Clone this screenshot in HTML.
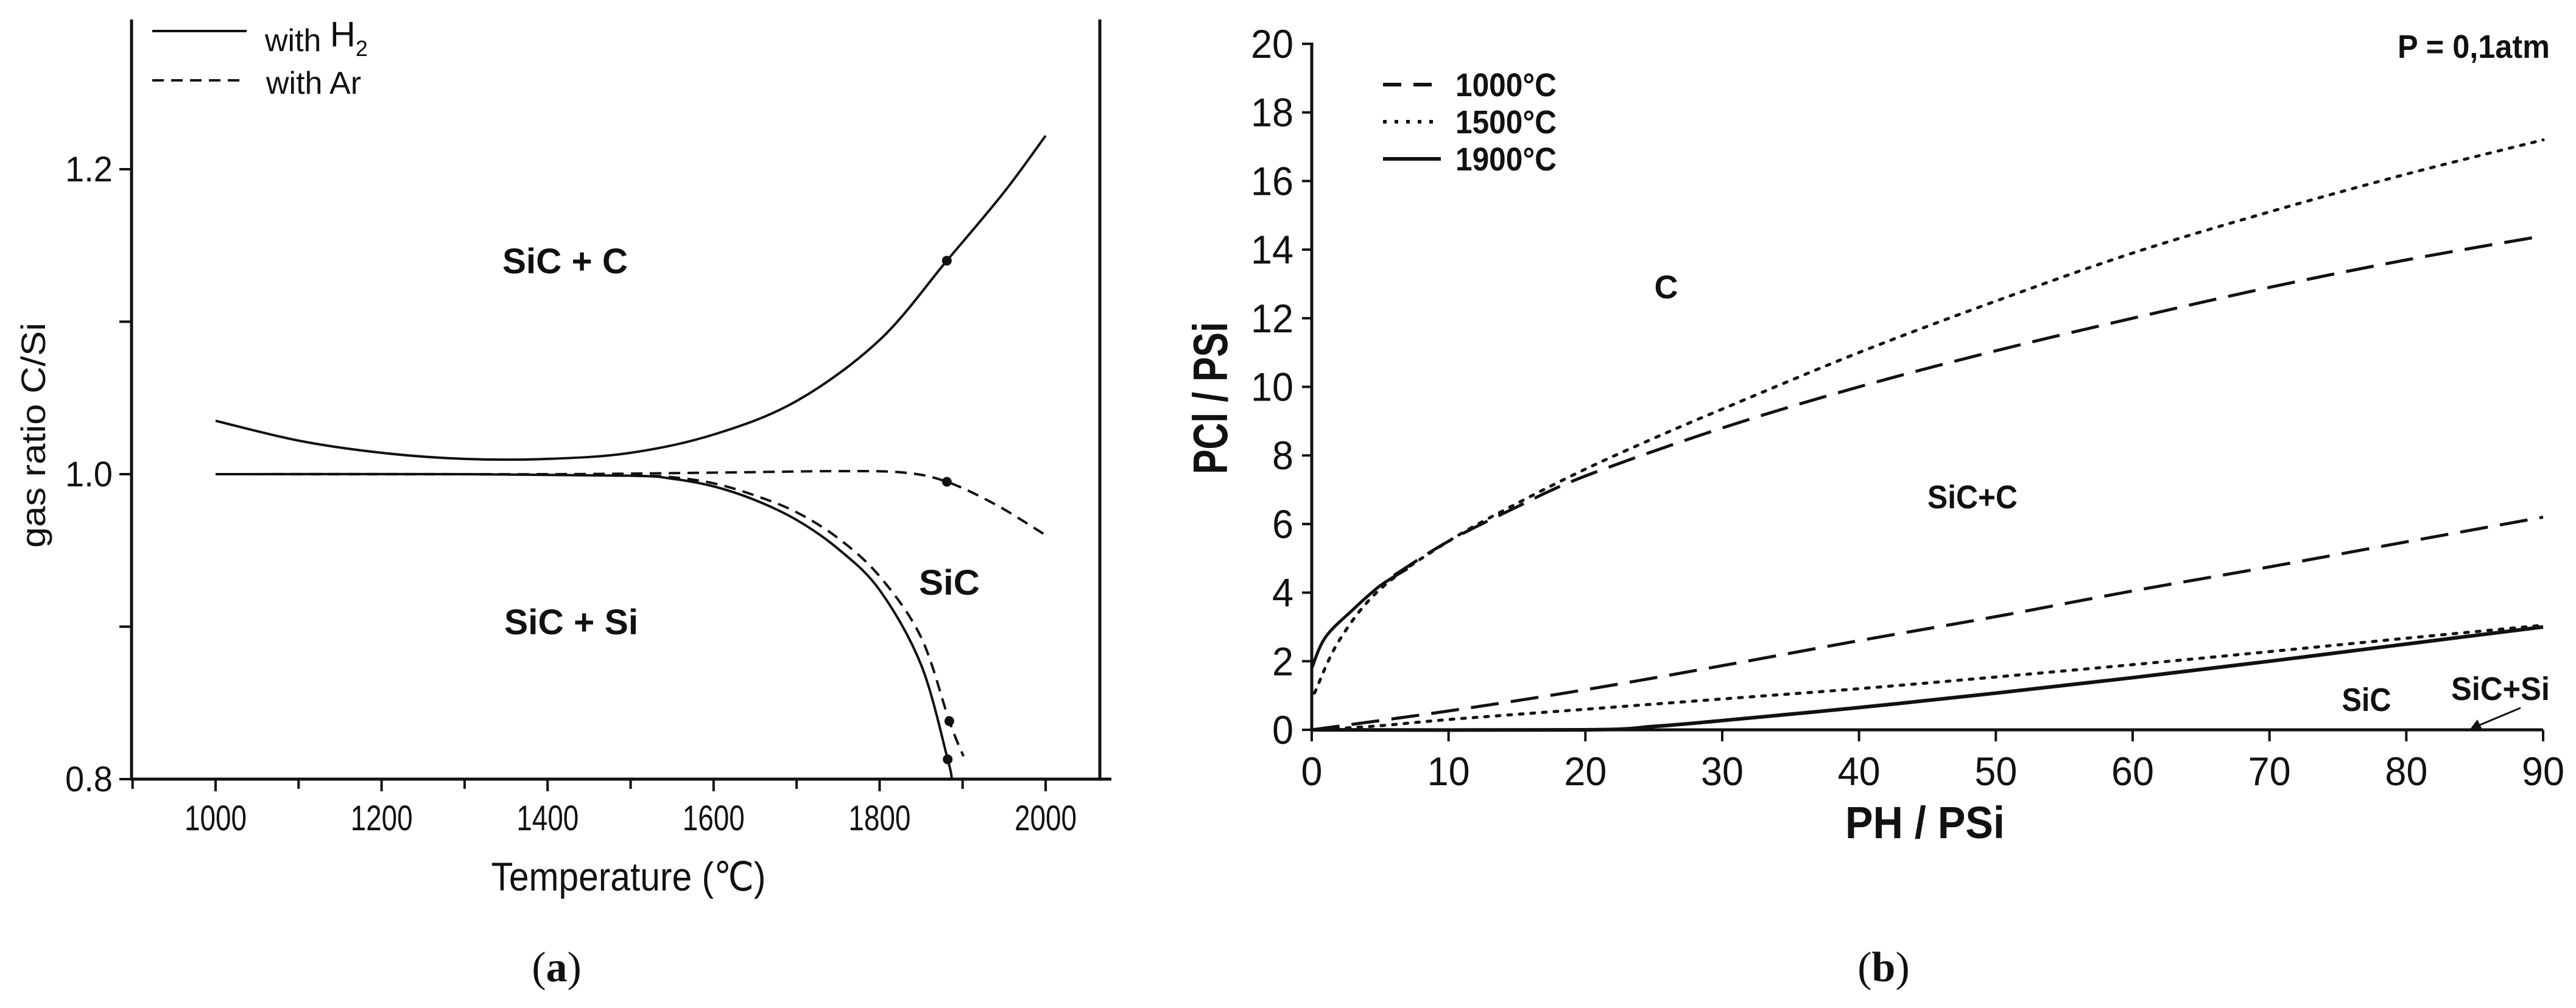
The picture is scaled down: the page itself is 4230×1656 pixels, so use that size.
<!DOCTYPE html>
<html><head><meta charset="utf-8"><style>
html,body{margin:0;padding:0;background:#fff;}
svg{display:block;}
text{font-family:"Liberation Sans",sans-serif;fill:#111;}
</style></head><body>
<svg id="fig" width="4230" height="1656" viewBox="0 0 4230 1656" xmlns="http://www.w3.org/2000/svg">
<rect width="4230" height="1656" fill="#fff"/>
<g id="pa"></g>
<g id="pb"></g>
</svg>
<script>
// ---------- Chart (a) data ----------
const aXTicks = [1000,1200,1400,1600,1800,2000];
const aYTicks = [0.8,1.0,1.2];
const aYTickLabels = ["0.8","1.0","1.2"];
const h2UpperT = [1000,1100,1200,1300,1400,1500,1600,1700,1800,1881,1950,2000];
const h2UpperV = [1.035,1.022,1.014,1.010,1.010,1.014,1.026,1.048,1.088,1.14,1.185,1.222];
const h2LowerT = [1000,1300,1500,1550,1600,1650,1700,1750,1800,1850,1882,1887];
const h2LowerV = [1.0,1.0,0.999,0.997,0.992,0.983,0.970,0.951,0.924,0.875,0.813,0.800];
const arUpperT = [1000,1400,1600,1750,1830,1881,1940,2000];
const arUpperV = [1.0,1.0,1.001,1.002,1.001,0.995,0.980,0.96];
const arLowerT = [1000,1300,1500,1550,1600,1650,1700,1750,1800,1850,1884,1901];
const arLowerV = [1.0,1.0,0.999,0.998,0.994,0.986,0.975,0.958,0.933,0.893,0.838,0.815];
const aDotsT = [1881,1882,1884,1881];
const aDotsV = [1.14,0.813,0.838,0.995];

// ---------- Chart (b) data ----------
const bXTicks = [0,10,20,30,40,50,60,70,80,90];
const bYTicks = [0,2,4,6,8,10,12,14,16,18,20];
const d1000UpX = [6,10,15,20,30,40,50,60,70,80,90];
const d1000UpY = [4.5,5.5,6.5,7.4,8.8,10.0,11.05,12.0,12.9,13.7,14.4];
const d1500UpX = [0.2,2,5,10,15,20,25,30,40,50,60,70,80,90];
const d1500UpY = [1.07,2.6,4.1,5.5,6.6,7.6,8.5,9.35,11.0,12.5,13.9,15.1,16.2,17.2];
const d1900UpX = [0,1,3,5,7];
const d1900UpY = [1.8,2.7,3.5,4.2,4.7];
const d1000LoX = [0,10,20,30,40,50,60,70,80,90];
const d1000LoY = [0,0.55,1.17,1.87,2.6,3.3,4.05,4.75,5.48,6.2];
const d1500LoX = [0,5,10,20,30,40,50,60,70,80,90];
const d1500LoY = [0,0.12,0.3,0.6,0.9,1.2,1.54,1.9,2.28,2.67,3.05];
const d1900LoX = [0,20,25,30,40,50,60,70,80,90];
const d1900LoY = [0,0,0.1,0.27,0.65,1.07,1.52,2.0,2.5,3.0];

const NS="http://www.w3.org/2000/svg";
function mk(parent,tag,attrs,txt){const e=document.createElementNS(NS,tag);for(const k in attrs)e.setAttribute(k,attrs[k]);if(txt!==undefined)e.textContent=txt;parent.appendChild(e);return e;}
function smooth(pts){
  if(pts.length<2)return "";
  let d="M"+pts[0][0].toFixed(1)+","+pts[0][1].toFixed(1);
  for(let i=0;i<pts.length-1;i++){
    const p0=pts[i-1]||pts[i],p1=pts[i],p2=pts[i+1],p3=pts[i+2]||p2;
    const c1=[p1[0]+(p2[0]-p0[0])/6,p1[1]+(p2[1]-p0[1])/6];
    const c2=[p2[0]-(p3[0]-p1[0])/6,p2[1]-(p3[1]-p1[1])/6];
    d+="C"+c1[0].toFixed(1)+","+c1[1].toFixed(1)+" "+c2[0].toFixed(1)+","+c2[1].toFixed(1)+" "+p2[0].toFixed(1)+","+p2[1].toFixed(1);
  }
  return d;
}

// ===== Chart A =====
const pa=document.getElementById('pa');
const ax=t=>354+(t-1000)*(1717-354)/1000;
const ay=v=>779-(v-1.0)*(779-278)/0.2;
let e;
e=mk(pa,'line',{x1:216,y1:32,x2:216,y2:1280,stroke:'#111','stroke-width':5});

e=mk(pa,'line',{x1:1806,y1:32,x2:1806,y2:1280,stroke:'#111','stroke-width':5});

e=mk(pa,'line',{x1:214,y1:1280,x2:1825,y2:1280,stroke:'#111','stroke-width':5});

for(let t=900;t<=2000;t+=100){
  const major=aXTicks.includes(t);
  e=mk(pa,'line',{x1:ax(t),y1:1280,x2:ax(t),y2:major?1300:1296,stroke:'#111','stroke-width':4});
  
}
aXTicks.forEach(t=>{
  e=mk(pa,'text',{x:ax(t),y:1364,'font-size':58,'text-anchor':'middle',textLength:102,lengthAdjust:'spacingAndGlyphs',fill:'#222'},String(t));
  
});
for(let v=0.8;v<=1.21;v+=0.1){
  e=mk(pa,'line',{x1:196,y1:ay(v),x2:216,y2:ay(v),stroke:'#111','stroke-width':4});
  
}
aYTicks.forEach((v,i)=>{
  e=mk(pa,'text',{x:185,y:ay(v)+20,'font-size':58,'text-anchor':'end',textLength:78,lengthAdjust:'spacingAndGlyphs',fill:'#222'},aYTickLabels[i]);
  
});
e=mk(pa,'text',{x:1032,y:1463,'font-size':66,'text-anchor':'middle',textLength:451,lengthAdjust:'spacingAndGlyphs',fill:'#222'},'Temperature (℃)');

e=mk(pa,'text',{x:0,y:0,'font-size':56,'text-anchor':'middle',textLength:370,lengthAdjust:'spacingAndGlyphs',transform:'translate(74,715) rotate(-90)',fill:'#333'},'gas ratio  C/Si');


function aPath(T,V,dash,name){
  const el=mk(pa,'path',{d:smooth(T.map((t,i)=>[ax(t),ay(V[i])])),fill:'none',stroke:'#111','stroke-width':4,'stroke-dasharray':dash||'none'});
  
}
aPath(h2UpperT,h2UpperV,null,'h2-upper-line');
aPath(h2LowerT,h2LowerV,null,'h2-lower-line');
aPath(arUpperT,arUpperV,'19 12','ar-upper-line');
aPath(arLowerT,arLowerV,'19 12','ar-lower-line');
aDotsT.forEach((t,i)=>{
  e=mk(pa,'circle',{cx:ax(t),cy:ay(aDotsV[i]),r:8,fill:'#111'});
  
});
// legend
e=mk(pa,'line',{x1:250,y1:51,x2:405,y2:51,stroke:'#111','stroke-width':4});

e=mk(pa,'text',{x:435,y:84,'font-size':52,fill:'#222'},'with ');

mk(e,'tspan',{'font-size':58,dy:-8},'H');mk(e,'tspan',{'font-size':36,dy:16},'2');
e=mk(pa,'line',{x1:250,y1:132,x2:405,y2:132,stroke:'#111','stroke-width':4,'stroke-dasharray':'19 12'});

e=mk(pa,'text',{x:437,y:154,'font-size':52,fill:'#222'},'with Ar');

e=mk(pa,'text',{x:928,y:449,'font-size':58,'font-weight':'bold','text-anchor':'middle',textLength:206,lengthAdjust:'spacingAndGlyphs'},'SiC + C');

e=mk(pa,'text',{x:938,y:1042,'font-size':58,'font-weight':'bold','text-anchor':'middle',textLength:220,lengthAdjust:'spacingAndGlyphs'},'SiC + Si');

e=mk(pa,'text',{x:1559,y:977,'font-size':58,'font-weight':'bold','text-anchor':'middle',textLength:100,lengthAdjust:'spacingAndGlyphs'},'SiC');

e=mk(pa,'text',{x:914,y:1612,'font-size':70,'text-anchor':'middle',style:'font-family:"Liberation Serif",serif'},'(');

mk(e,'tspan',{'font-weight':'bold'},'a');mk(e,'tspan',{},')');

// ===== Chart B =====
const pb=document.getElementById('pb');
const bx=x=>2154+x*(4176-2154)/90;
const by=y=>1199-y*(1199-72)/20;
e=mk(pb,'line',{x1:2154,y1:70,x2:2154,y2:1201,stroke:'#111','stroke-width':5});

e=mk(pb,'line',{x1:2152,y1:1199,x2:4176,y2:1199,stroke:'#111','stroke-width':5});

bXTicks.forEach(v=>{
  e=mk(pb,'line',{x1:bx(v),y1:1199,x2:bx(v),y2:1218,stroke:'#111','stroke-width':4});
  
  const s=String(v);
  e=mk(pb,'text',{x:bx(v),y:1290,'font-size':66,'text-anchor':'middle',textLength:s.length*35,lengthAdjust:'spacingAndGlyphs',fill:'#222'},s);
  
});
bYTicks.forEach(v=>{
  e=mk(pb,'line',{x1:2138,y1:by(v),x2:2154,y2:by(v),stroke:'#111','stroke-width':4});
  
  const s=String(v);
  e=mk(pb,'text',{x:2124,y:by(v)+23,'font-size':66,'text-anchor':'end',textLength:s.length*35,lengthAdjust:'spacingAndGlyphs',fill:'#222'},s);
  
});
e=mk(pb,'text',{x:3161,y:1377,'font-size':74,'font-weight':'bold','text-anchor':'middle',textLength:262,lengthAdjust:'spacingAndGlyphs'},'PH / PSi');

e=mk(pb,'text',{x:0,y:0,'font-size':80,'font-weight':'bold','text-anchor':'middle',textLength:250,lengthAdjust:'spacingAndGlyphs',transform:'translate(2015,654) rotate(-90)'},'PCl / PSi');


const DASH='46 20', DOT='6 13';
function bPath(X,Y,dash,name,w){
  const el=mk(pb,'path',{d:smooth(X.map((x,i)=>[bx(x),by(Y[i])])),fill:'none',stroke:'#111','stroke-width':w||5,'stroke-dasharray':dash||'none','stroke-linecap':dash===DOT?'round':'butt'});
  
}
bPath(d1000UpX,d1000UpY,DASH,'line-1000-upper');
bPath(d1500UpX,d1500UpY,DOT,'line-1500-upper');
bPath(d1900UpX,d1900UpY,null,'line-1900-upper');
bPath(d1000LoX,d1000LoY,DASH,'line-1000-lower');
bPath(d1500LoX,d1500LoY,DOT,'line-1500-lower');
bPath(d1900LoX,d1900LoY,null,'line-1900-lower',6);
// legend
const legY=[139,200,261], legLab=['1000°C','1500°C','1900°C'], legDash=['30 20',DOT,'none'];
legY.forEach((y,i)=>{
  e=mk(pb,'line',{x1:2271,y1:y,x2:2366,y2:y,stroke:'#111','stroke-width':6,'stroke-dasharray':legDash[i]});
  
  e=mk(pb,'text',{x:2390,y:y+19,'font-size':54,'font-weight':'bold',textLength:166,lengthAdjust:'spacingAndGlyphs'},legLab[i]);
  
});
e=mk(pb,'text',{x:4187,y:95,'font-size':54,'font-weight':'bold','text-anchor':'end',textLength:250,lengthAdjust:'spacingAndGlyphs'},'P = 0,1atm');

e=mk(pb,'text',{x:2736,y:490,'font-size':54,'font-weight':'bold','text-anchor':'middle'},'C');

e=mk(pb,'text',{x:3239,y:835,'font-size':54,'font-weight':'bold','text-anchor':'middle',textLength:148,lengthAdjust:'spacingAndGlyphs'},'SiC+C');

e=mk(pb,'text',{x:3886,y:1168,'font-size':54,'font-weight':'bold','text-anchor':'middle',textLength:81,lengthAdjust:'spacingAndGlyphs'},'SiC');

e=mk(pb,'text',{x:4106,y:1150,'font-size':54,'font-weight':'bold','text-anchor':'middle',textLength:162,lengthAdjust:'spacingAndGlyphs'},'SiC+Si');

e=mk(pb,'line',{x1:4139,y1:1163,x2:4072,y2:1191,stroke:'#111','stroke-width':3});

e=mk(pb,'polygon',{points:'4056,1198 4068,1182 4076,1198',fill:'#111'});

e=mk(pb,'text',{x:3093,y:1612,'font-size':70,'text-anchor':'middle',style:'font-family:"Liberation Serif",serif'},'(');

mk(e,'tspan',{'font-weight':'bold'},'b');mk(e,'tspan',{},')');
</script>
</body></html>
